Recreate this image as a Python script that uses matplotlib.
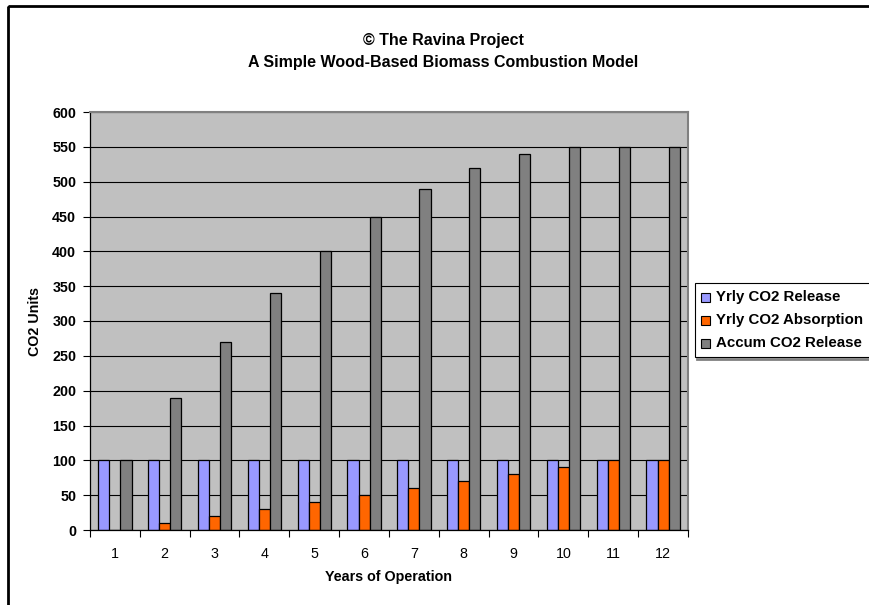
import matplotlib
matplotlib.use("Agg")
import matplotlib.pyplot as plt
from matplotlib.patches import Rectangle
from matplotlib.lines import Line2D
import numpy as np

plt.rcParams['font.family'] = ['Liberation Sans', 'DejaVu Sans']

years = [1, 2, 3, 4, 5, 6, 7, 8, 9, 10, 11, 12]
yrly_release = [100, 100, 100, 100, 100, 100, 100, 100, 100, 100, 100, 100]
yrly_absorption = [0, 10, 20, 30, 40, 50, 60, 70, 80, 90, 100, 100]
accum_release = [100, 190, 270, 340, 400, 450, 490, 520, 540, 550, 550, 550]
series_names = ["Yrly CO2 Release", "Yrly CO2 Absorption", "Accum CO2 Release"]
series_colors = ["#9999FF", "#FF6600", "#808080"]
y_ticks = [0, 50, 100, 150, 200, 250, 300, 350, 400, 450, 500, 550, 600]
title_lines = ["\u00a9 The Ravina Project", "A Simple Wood-Based Biomass Combustion Model"]

W, H = 870, 605
fig = plt.figure(figsize=(W / 100, H / 100), dpi=100)

# overlay for decoration in pixel coordinates
ov = fig.add_axes([0, 0, 1, 1])
ov.set_xlim(0, W)
ov.set_ylim(H, 0)
ov.axis('off')

# main axes
L, R, T, B = 90, 688, 112, 530
ax = fig.add_axes([L / W, 1 - B / H, (R - L) / W, (B - T) / H])
ax.set_facecolor('#C0C0C0')

x = np.arange(len(years))
w = 1 / 4.5
all_series = [yrly_release, yrly_absorption, accum_release]
for i, (vals, col) in enumerate(zip(all_series, series_colors)):
    ax.bar(x + (i - 1) * w, vals, width=w, color=col, edgecolor='black',
           linewidth=0.9, zorder=3)

ax.set_xlim(-0.5, len(years) - 0.5)
ax.set_ylim(0, 600)
ax.set_yticks(y_ticks)
ax.set_yticklabels([str(v) for v in y_ticks], fontweight='bold', fontsize=10.3)
ax.set_xticks(x)
ax.set_xticklabels([str(v) for v in years], fontsize=10.3)
ax.set_xticks(np.arange(len(years) + 1) - 0.5, minor=True)
ax.tick_params(axis='x', which='major', length=0, pad=12)
ax.tick_params(axis='x', which='minor', length=5, width=0.8, direction='out')
ax.tick_params(axis='y', which='major', length=5, width=0.8, direction='out', pad=5)
ax.yaxis.grid(True, color='black', linewidth=0.8, zorder=1)
ax.set_axisbelow(True)
for s in ['left', 'bottom']:
    ax.spines[s].set_color('black')
    ax.spines[s].set_linewidth(0.9)
    ax.spines[s].set_zorder(4)
for s in ['top', 'right']:
    ax.spines[s].set_color('#808080')
    ax.spines[s].set_linewidth(1.5)
    ax.spines[s].set_zorder(4)

# figure frame (left/top visible)
ov.add_patch(Rectangle((8.5, 6), 900, 700, fill=False, edgecolor='black', linewidth=2))

# titles
ov.text(443, 40, title_lines[0], ha='center', va='center', fontsize=11.5, fontweight='bold')
ov.text(443, 63, title_lines[1], ha='center', va='center', fontsize=11.5, fontweight='bold')

# axis labels
ov.text(35, 321, "CO2 Units", ha='center', va='center', rotation=90, fontsize=10.3, fontweight='bold')
ov.text(389, 577, "Years of Operation", ha='center', va='center', fontsize=10.3, fontweight='bold')

# legend
ov.add_line(Line2D([697, 880], [358.5, 358.5], color='#808080', linewidth=2))
ov.add_patch(Rectangle((695, 283), 190, 74, facecolor='white', edgecolor='black', linewidth=0.8))
rows = [297, 320, 343]
for name, col, yy in zip(series_names, series_colors, rows):
    ov.add_patch(Rectangle((701, yy - 4.5), 9, 9, facecolor=col, edgecolor='black', linewidth=0.8))
    ov.text(716, yy, name, ha='left', va='center', fontsize=10.8, fontweight='bold')

fig.savefig("out.png", dpi=100)
